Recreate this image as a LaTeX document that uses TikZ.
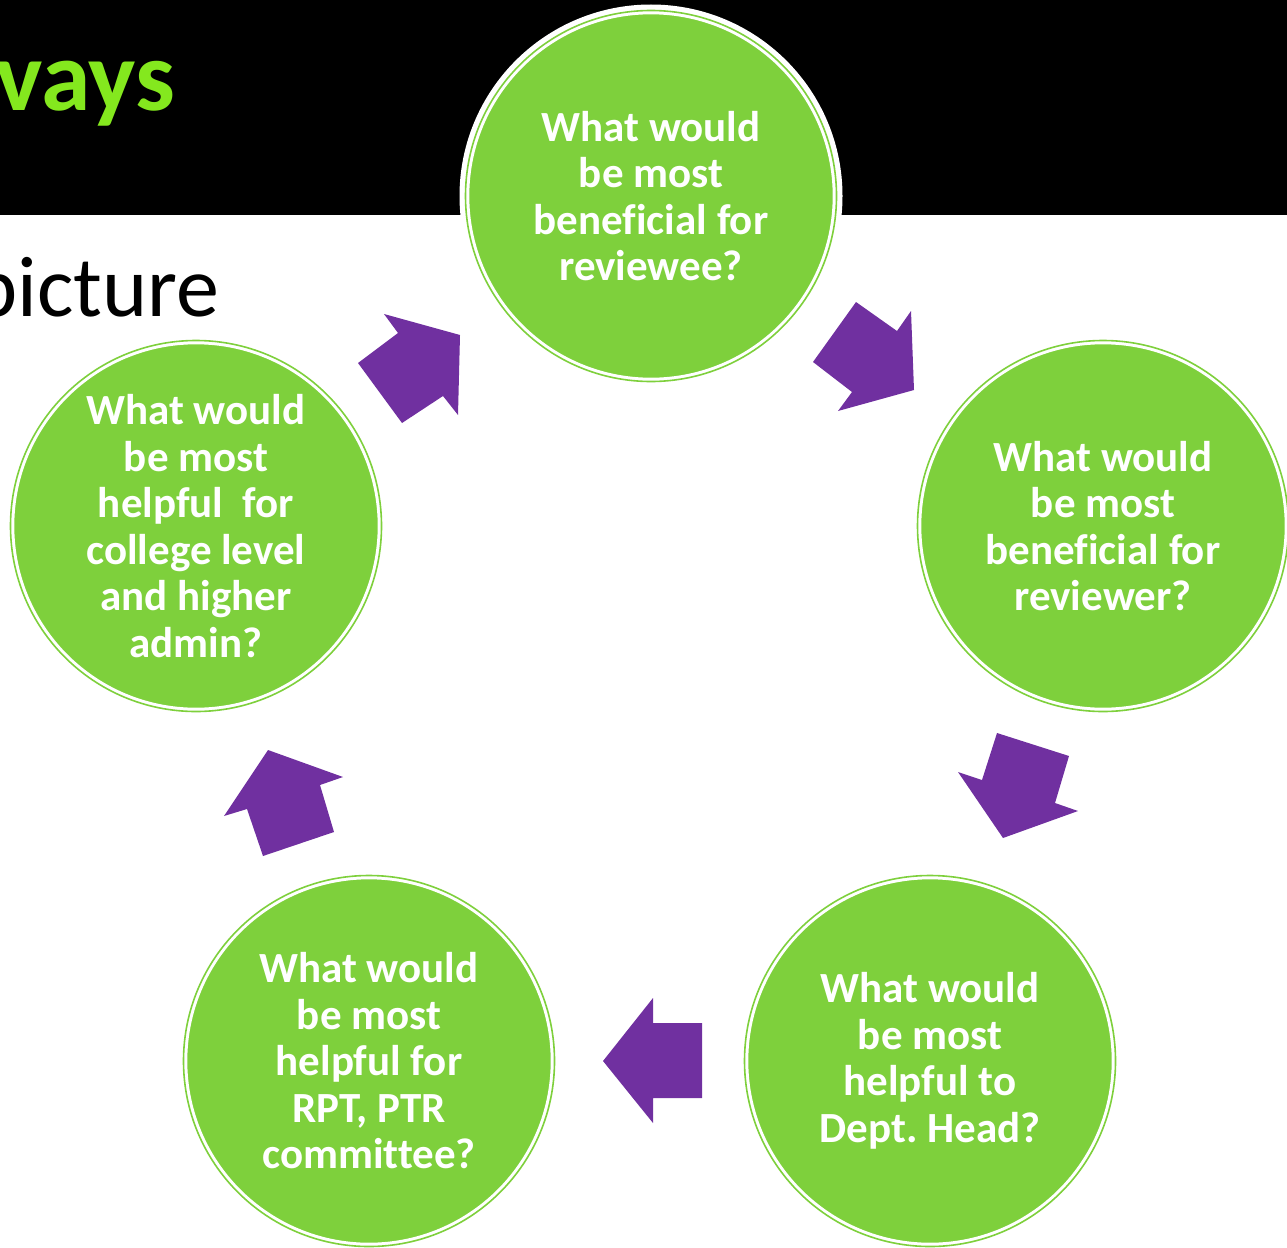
\documentclass[tikz,border=0pt]{standalone}
\usepackage{fontspec}
\setmainfont{Carlito}[Ligatures=NoCommon]
\frenchspacing
\definecolor{leaf}{HTML}{7ED03C}
\definecolor{plum}{HTML}{7030A0}
\definecolor{lime}{HTML}{84E81E}
\tikzset{
  bubble/.style={circle, inner sep=0pt, minimum size=371pt,
    fill=leaf, draw=white, line width=3pt, double=leaf, double distance=1.6pt,
    preaction={draw=white, line width=12pt},
    text=white, align=center,
    font=\bfseries\fontsize{43}{46.5}\selectfont},
  blockarrow/.style={fill=plum}
}
\begin{document}
\begin{tikzpicture}[x=1pt,y=-1pt]
\useasboundingbox (0,0) rectangle (1287,1247);
\clip (0,0) rectangle (1287,1247);
% title band
\fill[black] (0,0) rectangle (1287,215);
\node[anchor=base west, inner sep=0pt, text=lime,
  font=\bfseries\fontsize{100}{100}\selectfont] (title) at (-5,110) {vays};
\node[anchor=base west, inner sep=0pt, text=black,
  font=\fontsize{86}{86}\selectfont] (sub) at (-28,316) {picture};

% the five questions
\node[bubble] (c1) at (651,196) {What would\\be most\\beneficial for\\reviewee?};
\node[bubble] (c2) at (1103,526) {What would\\be most\\beneficial for\\reviewer?};
\node[bubble] (c3) at (930,1061) {What would\\be most\\helpful to\\Dept. Head?};
\node[bubble] (c4) at (369,1061) {What would\\be most\\helpful for\\RPT, PTR\\committee?};
\node[bubble] (c5) at (196,526) {What would\\be most\\helpful~ for\\college level\\and higher\\admin?};

% block arrows around the cycle
\fill[blockarrow] (856,302) -- (897,331) -- (911,311) -- (914,390) -- (838,411) -- (852,392) -- (813,362) -- cycle;
\fill[blockarrow] (997,733) -- (1069,756) -- (1055,803) -- (1078,811) -- (1003,838) -- (958,772) -- (982,780) -- cycle;
\fill[blockarrow] (702,1023) -- (702,1098) -- (653,1098) -- (653,1123) -- (603,1061) -- (653,998) -- (653,1023) -- cycle;
\fill[blockarrow] (263,856) -- (334,832) -- (320,785) -- (343,777) -- (268,750) -- (224,816) -- (247,809) -- cycle;
\fill[blockarrow] (358,363) -- (402,423) -- (443,396) -- (458,415) -- (460,335) -- (384,314) -- (398,333) -- cycle;
\end{tikzpicture}
\end{document}
